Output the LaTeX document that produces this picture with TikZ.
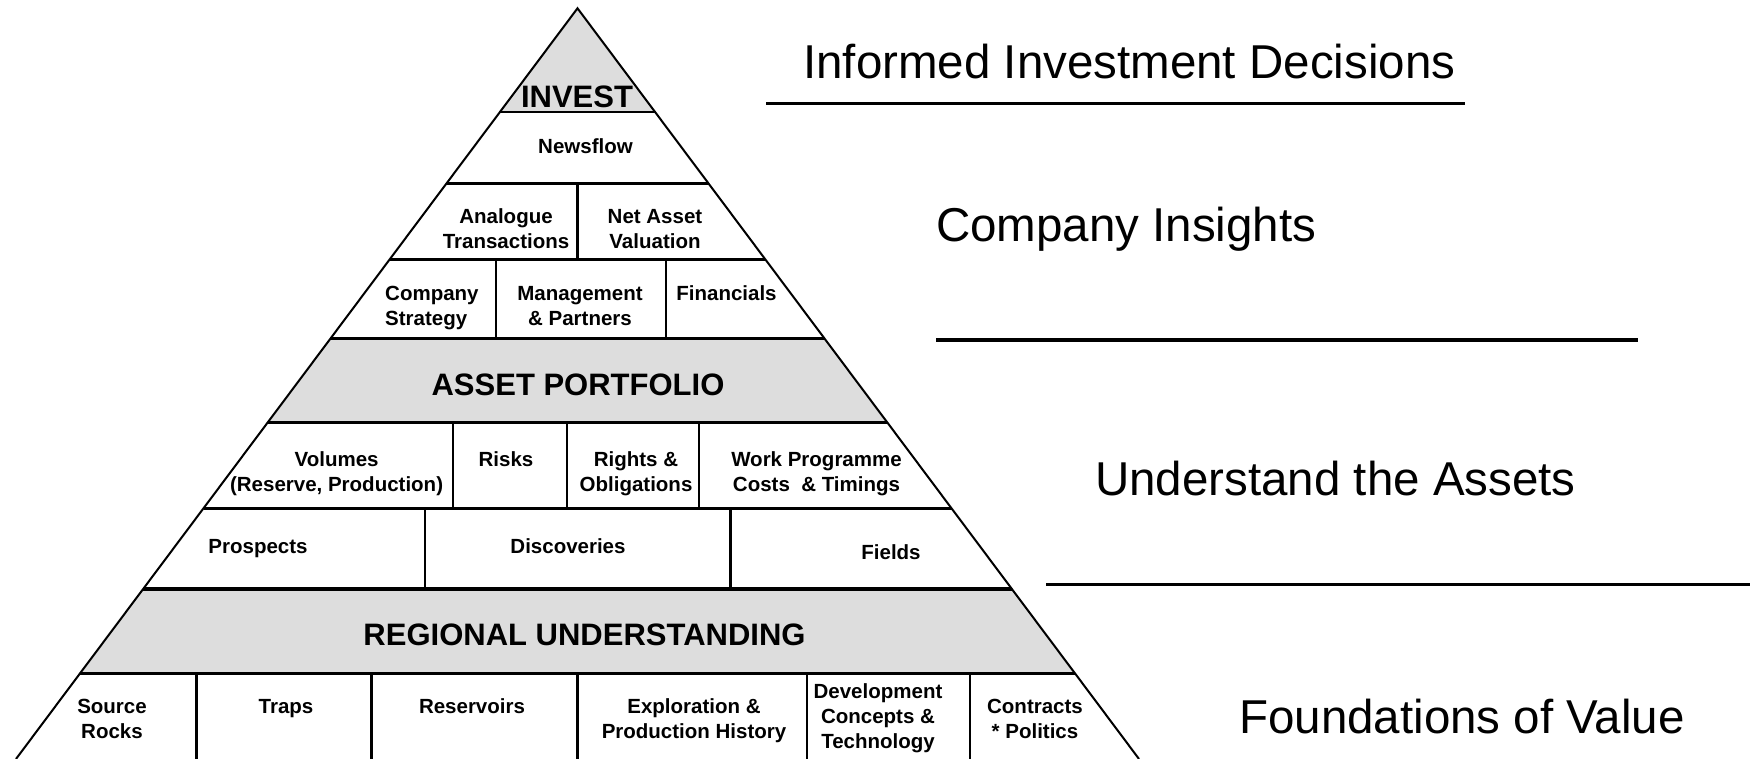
\documentclass[tikz,border=0pt]{standalone}
\usepackage{fontspec}
\setmainfont{Liberation Sans}
\definecolor{bandgray}{RGB}{221,221,221}
\newcommand\lblfont{\fontsize{20.5}{25}\selectfont\bfseries}
\newcommand\bigfont{\fontsize{31}{37}\selectfont\bfseries}
\newcommand\sidefont{\fontsize{47.5}{57}\selectfont}
\newcommand\cstack[1]{\begin{tabular}[t]{@{}c@{}}#1\end{tabular}}
\newcommand\lstack[1]{\begin{tabular}[t]{@{}l@{}}#1\end{tabular}}
\begin{document}
\begin{tikzpicture}[x=1pt,y=-1pt,
  band/.style={fill=bandgray},
  outline/.style={line width=2pt, line join=miter},
  rowline/.style={line width=3.2pt},
  divider/.style={line width=2.6pt},
  rule/.style={line width=3.4pt},
  lbl/.style={font=\lblfont, inner sep=0pt, anchor=base},
  lbll/.style={font=\lblfont, inner sep=0pt, anchor=base west},
  biglbl/.style={font=\bigfont, inner sep=0pt, anchor=base},
  side/.style={font=\sidefont, inner sep=0pt, anchor=base west}]
\fill[white] (0,0) rectangle (1750,759);
\useasboundingbox (0,0) rectangle (1750,759);

% pyramid geometry: apex and slope of the sides
\def\pyrx{577.5}\def\pyry{8.3}\def\pyrs{0.748}
\coordinate (apex) at (\pyrx,\pyry);
\foreach \n/\y in {r1/112, r2/183.7, r3/259.3, r4/338.3, r5/422.7,
                   r6/508.3, r7/589, r8/673.3, r9/759} {
  \coordinate (\n-l) at ({\pyrx-\pyrs*(\y-\pyry)},\y);
  \coordinate (\n-r) at ({\pyrx+\pyrs*(\y-\pyry)},\y);
}

% shaded tiers
\fill[band] (apex) -- (r1-r) -- (r1-l) -- cycle;
\fill[band] (r4-l) -- (r4-r) -- (r5-r) -- (r5-l) -- cycle;
\fill[band] (r7-l) -- (r7-r) -- (r8-r) -- (r8-l) -- cycle;

% tier separators
\draw[line width=2pt] (r1-l) -- (r1-r);
\foreach \n in {r2,r3,r4,r5,r6,r7,r8}
  \draw[rowline] (\n-l) -- (\n-r);

% cell dividers
\draw[divider] (577.5,183.7) -- (577.5,259.3);
\foreach \x in {496,665.8} \draw[divider] (\x,259.3) -- (\x,338.3);
\foreach \x in {453,567,699} \draw[divider] (\x,422.7) -- (\x,508.3);
\foreach \x in {425,730.6} \draw[divider] (\x,508.3) -- (\x,589);
\foreach \x in {196.4,371.4,577.5,807,970} \draw[divider] (\x,673.3) -- (\x,759);

% pyramid sides
\draw[outline] (r9-l) -- (apex) -- (r9-r);

% tier titles
\node[biglbl] (invest) at (577,108) {INVEST};
\node[biglbl] (asset) at (578,395) {ASSET PORTFOLIO};
\node[biglbl] (regional) at (584.5,645) {REGIONAL UNDERSTANDING};

% cells
\node[lbl] (newsflow) at (585.5,154) {Newsflow};
\node[lbl] (analogue) at (506,224) {\cstack{Analogue\\Transactions}};
\node[lbl] (nav) at (655,224) {\cstack{Net Asset\\Valuation}};
\node[lbll] (strategy) at (385,300) {\lstack{Company\\Strategy}};
\node[lbl] (mgmt) at (580,300) {\cstack{Management\\\& Partners}};
\node[lbl] (financials) at (726.5,300) {Financials};
\node[lbl] (volumes) at (336.6,466.7) {\cstack{Volumes\\(Reserve, Production)}};
\node[lbl] (risks) at (506,466.7) {Risks};
\node[lbl] (rights) at (636,466.7) {\cstack{Rights \&\\Obligations}};
\node[lbl] (work) at (816.5,466.7) {\cstack{Work Programme\\Costs\ \ \& Timings}};
\node[lbl] (prospects) at (258,553) {Prospects};
\node[lbl] (discoveries) at (568,553) {Discoveries};
\node[lbl] (fields) at (891,559) {Fields};
\node[lbl] (source) at (112,713) {\cstack{Source\\Rocks}};
\node[lbl] (traps) at (286,713) {Traps};
\node[lbl] (reservoirs) at (472,713) {Reservoirs};
\node[lbl] (history) at (694,713) {\cstack{Exploration \&\\Production History}};
\node[lbl] (devel) at (878,698) {\cstack{Development\\Concepts \&\\Technology}};
\node[lbl] (contracts) at (1035,713) {\cstack{Contracts\\{*} Politics}};

% side headings and rules
\node[side] (decisions) at (803,79) {Informed Investment Decisions};
\coordinate (rule1a) at (766,103.3);
\coordinate (rule1b) at (1465,103.3);
\draw[rule] (rule1a) -- (rule1b);
\node[side] (insights) at (936,241.7) {Company Insights};
\coordinate (rule2a) at (936,340);
\coordinate (rule2b) at (1638,340);
\draw[rule] (rule2a) -- (rule2b);
\node[side] (assets) at (1095,495.7) {Understand the Assets};
\coordinate (rule3a) at (1046,584.3);
\coordinate (rule3b) at (1750,584.3);
\draw[rule] (rule3a) -- (rule3b);
\node[side] (foundations) at (1239,733.3) {Foundations of Value};
\end{tikzpicture}
\end{document}
